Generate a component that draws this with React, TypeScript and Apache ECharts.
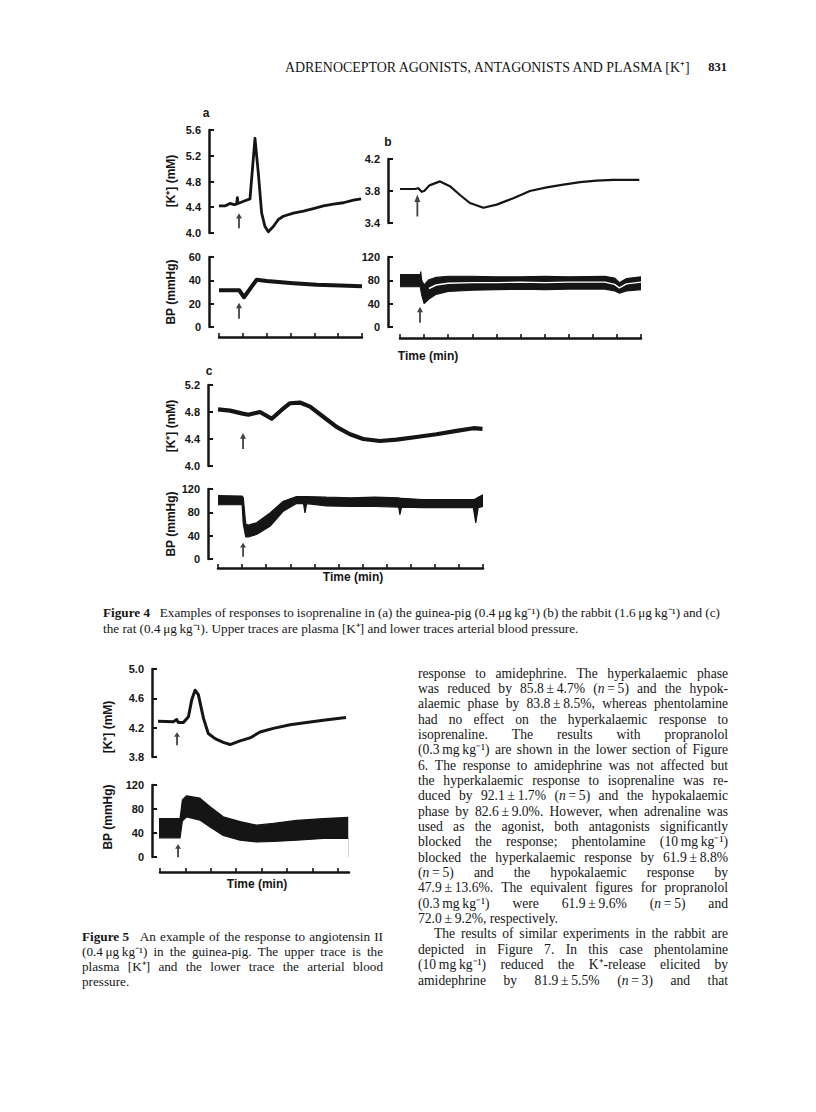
import React, { useEffect, useRef } from 'react';
import * as echarts from 'echarts';

const INK = '#151515';
const SERIF = '"Liberation Serif", "Times New Roman", serif';
const SANS = '"Liberation Sans", Arial, sans-serif';

// ---------------- Figure 4a (guinea-pig) ----------------
const aKTime = [0, 0.25, 0.46, 0.63, 0.74, 0.77, 0.8, 0.88, 1.09, 1.3, 1.51, 1.65, 1.79, 1.93, 2.07, 2.28, 2.49, 2.7, 3.12, 3.54, 3.96, 4.38, 4.8, 5.22, 5.64, 5.96];
const aKConc = [4.42, 4.42, 4.46, 4.44, 4.45, 4.55, 4.46, 4.47, 4.5, 4.53, 5.47, 4.93, 4.31, 4.1, 4.02, 4.1, 4.21, 4.26, 4.31, 4.34, 4.38, 4.42, 4.45, 4.47, 4.51, 4.53];
const aBPTime = [0, 0.85, 1.05, 1.58, 2.0, 3.12, 4.1, 5.08, 6.0];
const aBP = [31.4, 31.5, 25.5, 40.5, 39.5, 37.6, 36.2, 35.6, 35];
const aArrowK = [0.84, 4.19];
const aArrowBP = [0.84, 14];

// ---------------- Figure 4b (rabbit) ----------------
const bKTime = [0, 0.62, 0.76, 0.9, 1.0, 1.22, 1.66, 2.07, 2.49, 2.9, 3.46, 4.01, 4.7, 5.39, 6.09, 6.78, 7.47, 8.16, 8.85, 9.93];
const bKConc = [3.825, 3.825, 3.835, 3.79, 3.8, 3.87, 3.92, 3.86, 3.75, 3.65, 3.59, 3.63, 3.71, 3.8, 3.845, 3.88, 3.91, 3.93, 3.94, 3.94];
const bBPTime = [0, 0.84, 0.86, 0.9, 1.0, 1.2, 1.5, 2.0, 3.0, 4.0, 5.0, 6.0, 7.0, 8.5, 8.9, 9.1, 9.4, 10];
const bBPLow = [69, 69, 69, 55, 40, 48, 56, 61, 63, 64, 65, 64, 65, 65, 62, 58, 62, 64];
const bBPHigh = [90, 90, 95, 80, 72, 81, 85, 87, 87, 86, 86, 87, 86, 87, 84, 76, 83, 86];
const bMidTime = [1.2, 1.5, 2.0, 3.0, 4.0, 5.0, 6.0, 7.0, 8.5, 8.9, 9.1, 9.4, 10];
const bBPMid = [66, 72, 75, 76, 76, 77, 76, 77, 77, 73, 67, 74, 77];
const bArrowK = [0.72, 3.62];
const bArrowBP = [0.83, 21];

// ---------------- Figure 4c (rat) ----------------
const cKTime = [0, 0.5, 0.98, 1.26, 1.74, 2.23, 2.64, 2.99, 3.4, 3.82, 4.37, 4.92, 5.48, 6.03, 6.72, 7.41, 8.24, 9.07, 9.9, 10.6, 10.98];
const cKConc = [4.84, 4.82, 4.78, 4.76, 4.8, 4.7, 4.83, 4.93, 4.94, 4.88, 4.73, 4.58, 4.47, 4.4, 4.37, 4.39, 4.43, 4.47, 4.52, 4.56, 4.55];
const cBPTime = [0, 1.0, 1.05, 1.15, 1.26, 1.6, 2.16, 2.71, 3.26, 3.55, 3.61, 3.68, 4.5, 5.5, 6.5, 7.5, 7.55, 7.62, 8.5, 9.5, 10.6, 10.7, 10.8, 11];
const cBPLow = [93, 93, 60, 38, 38, 42, 56, 82, 95, 95, 79, 95, 91, 90, 90, 89, 76, 89, 88, 88, 88, 62, 88, 90];
const cBPHigh = [108.6, 108, 105, 60, 58, 62, 79, 99, 107, 107, 107, 107, 106, 105, 106, 105, 104, 104, 102, 102, 102, 103, 106, 110];
const cArrowK = [1.04, 4.37];
const cArrowBP = [1.04, 16];

// ---------------- Figure 5 (angiotensin II) ----------------
const fKTime = [-0.17, 0.52, 0.66, 0.72, 0.92, 1.12, 1.25, 1.38, 1.51, 1.71, 1.9, 2.17, 2.49, 2.76, 3.15, 3.54, 3.94, 4.46, 5.12, 5.77, 6.43, 7.32];
const fKConc = [4.29, 4.28, 4.31, 4.27, 4.27, 4.35, 4.58, 4.71, 4.65, 4.33, 4.12, 4.05, 4.0, 3.97, 4.02, 4.06, 4.14, 4.19, 4.24, 4.27, 4.3, 4.34];
const fBPTime = [-0.17, 0.79, 0.88, 1.05, 1.57, 1.97, 2.49, 3.15, 3.81, 4.46, 5.38, 6.43, 7.41];
const fBPLow = [32, 32, 60, 67, 61.5, 50, 36, 28, 25, 26, 28, 31, 31];
const fBPHigh = [64, 64, 95, 102, 98, 84, 67, 59, 53, 56, 61, 64, 66];
const fArrowK = [0.67, 4.05];
const fArrowBP = [0.71, 10.4];
const fTimeTicks = [0, 1, 2, 3, 4, 5, 6, 7];

// axis ranges [min, max, interval]
const aKRange = [4.0, 5.6, 0.4];
const aBPRange = [0, 60, 20];
const bKRange = [3.4, 4.2, 0.4];
const bBPRange = [0, 120, 40];
const cKRange = [4.0, 5.2, 0.4];
const cBPRange = [0, 120, 40];
const fKRange = [3.8, 5.0, 0.4];
const fBPRange = [0, 120, 40];

// ---------------- Texts ----------------
const headerText = 'ADRENOCEPTOR AGONISTS, ANTAGONISTS AND PLASMA [K⁺]';
const pageNumber = '831';
const fig4Caption = [
  '{b|Figure\u00a04}\u2002 Examples of responses to isoprenaline in (a) the guinea-pig (0.4\u2009μg\u2009kg⁻¹) (b) the rabbit (1.6\u2009μg\u2009kg⁻¹) and (c)',
  'the rat (0.4\u2009μg\u2009kg⁻¹). Upper traces are plasma [K⁺] and lower traces arterial blood pressure.',
];
const fig5Caption = [
  '{b|Figure\u00a05}\u2002 An example of the response to angiotensin II',
  '(0.4\u2009μg\u2009kg⁻¹) in the guinea-pig. The upper trace is the',
  'plasma [K⁺] and the lower trace the arterial blood',
  'pressure.',
];
const bodyText = [
  'response to amidephrine. The hyperkalaemic phase',
  'was reduced by 85.8\u2009±\u20094.7% ({i|n}\u2009=\u20095) and the hypok-',
  'alaemic phase by 83.8\u2009±\u20098.5%, whereas phentolamine',
  'had no effect on the hyperkalaemic response to',
  'isoprenaline. The results with propranolol',
  '(0.3\u2009mg\u2009kg⁻¹) are shown in the lower section of Figure',
  '6. The response to amidephrine was not affected but',
  'the hyperkalaemic response to isoprenaline was re-',
  'duced by 92.1\u2009±\u20091.7% ({i|n}\u2009=\u20095) and the hypokalaemic',
  'phase by 82.6\u2009±\u20099.0%. However, when adrenaline was',
  'used as the agonist, both antagonists significantly',
  'blocked the response; phentolamine (10\u2009mg\u2009kg⁻¹)',
  'blocked the hyperkalaemic response by 61.9\u2009±\u20098.8%',
  '({i|n}\u2009=\u20095) and the hypokalaemic response by',
  '47.9\u2009±\u200913.6%. The equivalent figures for propranolol',
  '(0.3\u2009mg\u2009kg⁻¹) were 61.9\u2009±\u20099.6% ({i|n}\u2009=\u20095) and',
  '72.0\u2009±\u20099.2%, respectively.',
  'The results of similar experiments in the rabbit are',
  'depicted in Figure 7. In this case phentolamine',
  '(10\u2009mg\u2009kg⁻¹) reduced the K⁺-release elicited by',
  'amidephrine by 81.9\u2009±\u20095.5% ({i|n}\u2009=\u20093) and that',
];
const bodyRagged = [16]; // last line of a paragraph
const bodyIndented = [17];

// ---------------- helpers ----------------
const zip = (t: number[], v: number[]) => t.map((x, i) => [x, v[i]]);
const ARROW = 'path://M3,0 L6,7 L3.9,7 L3.9,20 L2.1,20 L2.1,7 L0,7 Z';

let mctx: CanvasRenderingContext2D | null = null;
function fontStr(size: number, kind: string, fam = SERIF) {
  return `${kind === 'i' ? 'italic ' : ''}${kind === 'b' ? 'bold ' : ''}${size}px ${fam}`;
}
function mw(s: string, size: number, kind: string, fam = SERIF) {
  if (!mctx) mctx = document.createElement('canvas').getContext('2d');
  mctx!.font = fontStr(size, kind, fam);
  return mctx!.measureText(s).width;
}
function parse(word: string) {
  const out: { t: string; k: string }[] = [];
  const re = /\{(\w)\|([^}]*)\}/g;
  let last = 0;
  let m: RegExpExecArray | null;
  while ((m = re.exec(word))) {
    if (m.index > last) out.push({ t: word.slice(last, m.index), k: '' });
    out.push({ t: m[2], k: m[1] });
    last = re.lastIndex;
  }
  if (last < word.length) out.push({ t: word.slice(last), k: '' });
  return out;
}
function txt(x: number, y: number, text: string, size: number, kind: string, fam: string, align = 'left', rotation = 0) {
  return {
    type: 'text', x, y, rotation, silent: true,
    style: {
      text, fill: INK, fontSize: size, fontFamily: fam,
      fontWeight: kind === 'b' ? 'bold' : 'normal', fontStyle: kind === 'i' ? 'italic' : 'normal',
      align, verticalAlign: 'middle', textAlign: align, textVerticalAlign: 'middle',
    },
  };
}
function textLine(line: string, x0: number, x1: number, y: number, size: number, justify: boolean, out: any[]) {
  const words = line.split(' ').filter((w) => w.length);
  const parsed = words.map(parse);
  const widths = parsed.map((segs) => segs.reduce((s, g) => s + mw(g.t, size, g.k), 0));
  const total = widths.reduce((a, b) => a + b, 0);
  const space = mw(' ', size, '');
  const gap = justify && words.length > 1 ? (x1 - x0 - total) / (words.length - 1) : space;
  let x = x0;
  parsed.forEach((segs, i) => {
    let sx = x;
    segs.forEach((g) => {
      out.push(txt(sx, y, g.t, size, g.k, SERIF));
      sx += mw(g.t, size, g.k);
    });
    x += widths[i] + gap;
  });
}

function yAx(gi: number, r: number[], offset: number, dec: number) {
  return {
    type: 'value', gridIndex: gi, min: r[0], max: r[1], interval: r[2], offset, position: 'left',
    axisLine: { show: true, onZero: false, lineStyle: { color: INK, width: 2.5 } },
    axisTick: { show: true, inside: true, length: 5, lineStyle: { color: INK, width: 2 } },
    axisLabel: { show: true, margin: 8, color: INK, fontFamily: SANS, fontWeight: 'bold', fontSize: 11, formatter: (v: number) => v.toFixed(dec) },
    splitLine: { show: false },
  };
}
function xAx(gi: number, max: number, show: boolean, offset: number, ticks?: number[]) {
  const tick: any = { show: true, inside: true, length: 4, lineStyle: { color: INK, width: 1.6 } };
  if (ticks) tick.customValues = ticks;
  return {
    type: 'value', gridIndex: gi, min: 0, max, interval: 1, show, offset, position: 'bottom',
    axisLine: { show: true, onZero: false, lineStyle: { color: INK, width: 2.5 } },
    axisTick: tick,
    axisLabel: { show: false },
    splitLine: { show: false },
  };
}
function lineS(gi: number, t: number[], v: number[], width: number) {
  return {
    type: 'line', xAxisIndex: gi, yAxisIndex: gi, data: zip(t, v), symbol: 'none', showSymbol: false,
    lineStyle: { color: INK, width, join: 'round' }, clip: false, silent: true, z: 3,
  };
}
// band: upper envelope filled black down to the axis minimum, lower envelope filled white over it
function bandS(gi: number, t: number[], lo: number[], hi: number[]) {
  return [
    { type: 'line', xAxisIndex: gi, yAxisIndex: gi, data: zip(t, hi), symbol: 'none', showSymbol: false, lineStyle: { color: INK, width: 1.2 }, areaStyle: { color: INK, opacity: 1, origin: 'start' }, clip: true, silent: true, z: 3 },
    { type: 'line', xAxisIndex: gi, yAxisIndex: gi, data: zip(t, lo), symbol: 'none', showSymbol: false, lineStyle: { color: INK, width: 1.2 }, areaStyle: { color: '#ffffff', opacity: 1, origin: 'start' }, clip: true, silent: true, z: 3 },
  ];
}
function arrowS(gi: number, p: number[], len: number) {
  return { type: 'scatter', xAxisIndex: gi, yAxisIndex: gi, data: [p], symbol: ARROW, symbolSize: [6, len], itemStyle: { color: INK }, silent: true, z: 6 };
}

export default function App() {
  const ref = useRef<HTMLDivElement>(null);
  useEffect(() => {
    if (!ref.current) return;
    const chart = echarts.init(ref.current, undefined, { renderer: 'svg' });

    const grids = [
      { left: 219, top: 130, width: 143, height: 103 },
      { left: 219, top: 257, width: 143, height: 70 },
      { left: 400, top: 159, width: 241, height: 64 },
      { left: 400, top: 257, width: 241, height: 70 },
      { left: 218, top: 385, width: 265, height: 81 },
      { left: 218, top: 489, width: 265, height: 70 },
      { left: 160, top: 669, width: 189, height: 88 },
      { left: 160, top: 785, width: 189, height: 72 },
    ].map((g) => ({ ...g, containLabel: false, outerBoundsMode: 'none' }));

    const xAxis = [
      xAx(0, 6, false, 0), xAx(1, 6, true, 10),
      xAx(2, 10, false, 0), xAx(3, 10, true, 11),
      xAx(4, 11, false, 0), xAx(5, 11, true, 9),
      xAx(6, 7.44, false, 0), xAx(7, 7.44, true, 15, fTimeTicks),
    ];
    const yAxis = [
      yAx(0, aKRange, 10, 1), yAx(1, aBPRange, 10, 0),
      yAx(2, bKRange, 12, 1), yAx(3, bBPRange, 12, 0),
      yAx(4, cKRange, 10, 1), yAx(5, cBPRange, 10, 0),
      yAx(6, fKRange, 8, 1), yAx(7, fBPRange, 8, 0),
    ];
    const series: any[] = [
      lineS(0, aKTime, aKConc, 2.8), arrowS(0, aArrowK, 15),
      lineS(1, aBPTime, aBP, 4), arrowS(1, aArrowBP, 16),
      lineS(2, bKTime, bKConc, 2.2), arrowS(2, bArrowK, 22),
      ...bandS(3, bBPTime, bBPLow, bBPHigh),
      { ...lineS(3, bMidTime, bBPMid, 1.4), lineStyle: { color: '#ffffff', width: 1.4 }, z: 4 },
      arrowS(3, bArrowBP, 16),
      lineS(4, cKTime, cKConc, 4.2), arrowS(4, cArrowK, 16),
      ...bandS(5, cBPTime, cBPLow, cBPHigh), arrowS(5, cArrowBP, 14),
      lineS(6, fKTime, fKConc, 3), arrowS(6, fArrowK, 13),
      ...bandS(7, fBPTime, fBPLow, fBPHigh), arrowS(7, fArrowBP, 13),
    ];

    const g: any[] = [];
    // header
    const hw = mw(headerText, 12, '');
    const hs = (12 * 408) / hw;
    g.push(txt(285, 67, headerText, hs, '', SERIF));
    g.push(txt(727, 67, pageNumber, 12.5, 'b', SERIF, 'right'));
    // panel letters
    g.push(txt(206, 113, 'a', 12, 'b', SANS, 'center'));
    g.push(txt(388, 142, 'b', 12, 'b', SANS, 'center'));
    g.push(txt(209, 371, 'c', 12, 'b', SANS, 'center'));
    // y-axis names
    const R = Math.PI / 2;
    g.push(txt(171, 181, '[K⁺] (mM)', 12, 'b', SANS, 'center', R));
    g.push(txt(171, 292, 'BP (mmHg)', 12, 'b', SANS, 'center', R));
    g.push(txt(171, 426, '[K⁺] (mM)', 12, 'b', SANS, 'center', R));
    g.push(txt(171, 524, 'BP (mmHg)', 12, 'b', SANS, 'center', R));
    g.push(txt(108, 727, '[K⁺] (mM)', 12, 'b', SANS, 'center', R));
    g.push(txt(108, 817, 'BP (mmHg)', 12, 'b', SANS, 'center', R));
    // time labels
    g.push(txt(428, 356, 'Time (min)', 12, 'b', SANS, 'center'));
    g.push(txt(353, 577, 'Time (min)', 12, 'b', SANS, 'center'));
    g.push(txt(257, 884, 'Time (min)', 12, 'b', SANS, 'center'));
    // captions
    textLine(fig4Caption[0], 103, 720, 612, 13.2, true, g);
    textLine(fig4Caption[1], 103, 720, 628, 13.2, false, g);
    fig5Caption.forEach((l, i) => textLine(l, 82, 383, 936.7 + i * 15, 13.2, i < fig5Caption.length - 1, g));
    // body column
    bodyText.forEach((l, i) => {
      const x0 = bodyIndented.includes(i) ? 434 : 418;
      textLine(l, x0, 728, 673 + i * 15.35, 13.6, !bodyRagged.includes(i), g);
    });

    chart.setOption({
      animation: false,
      backgroundColor: '#ffffff',
      grid: grids,
      xAxis,
      yAxis,
      series,
      graphic: { elements: g },
    });
    return () => chart.dispose();
  }, []);
  return <div ref={ref} style={{ position: 'absolute', left: 0, top: 0, width: 816, height: 1112, background: '#fff' }} />;
}
